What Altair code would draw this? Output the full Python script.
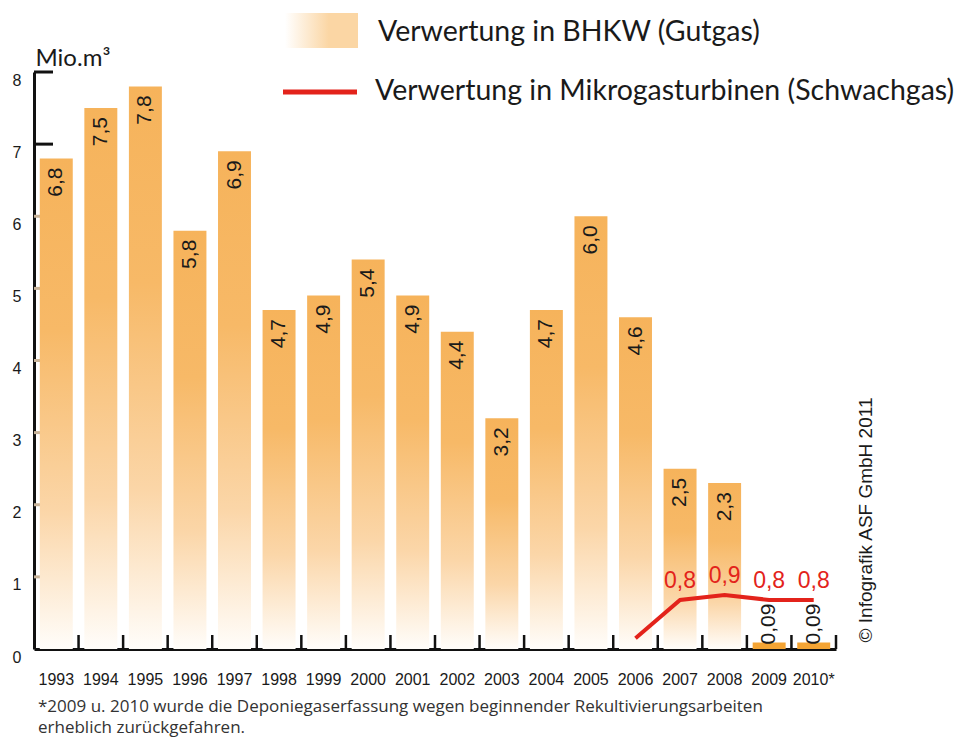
import altair as alt
import pandas as pd

# ---------------- data ----------------
years = ["1993", "1994", "1995", "1996", "1997", "1998", "1999", "2000", "2001",
         "2002", "2003", "2004", "2005", "2006", "2007", "2008", "2009", "2010*"]
bhkw = [6.8, 7.5, 7.8, 5.8, 6.9, 4.7, 4.9, 5.4, 4.9, 4.4, 3.2, 4.7, 6.0, 4.6,
        2.5, 2.3, 0.09, 0.09]
micro_years = ["2006", "2007", "2008", "2009", "2010*"]
micro_line = [0.15, 0.68, 0.75, 0.68, 0.68]
micro_labels = ["", "0,8", "0,9", "0,8", "0,8"]
y_tick_values = [1, 2, 3, 4, 5, 6, 7, 8]
y_tick_colors = ["#c9b49a", "#c9b49a", "#c9b49a", "#c9b49a", "#c9b49a", "#c9b49a",
                 "#111111", "#111111"]

legend_bhkw = "Verwertung in BHKW (Gutgas)"
legend_micro = "Verwertung in Mikrogasturbinen (Schwachgas)"
footnote_1 = "*2009 u. 2010 wurde die Deponiegaserfassung wegen beginnender Rekultivierungsarbeiten"
footnote_2 = "erheblich zurückgefahren."
copyright_text = "© Infografik ASF GmbH 2011"


def fmt(v):
    s = f"{v:.1f}" if v >= 0.1 else f"{v:.2f}"
    return s.replace(".", ",")


bars = pd.DataFrame({"year": years, "value": bhkw, "label": [fmt(v) for v in bhkw]})
line = pd.DataFrame({"year": micro_years, "value": micro_line, "label": micro_labels})
yticks = pd.DataFrame({"value": y_tick_values, "col": y_tick_colors})
one = pd.DataFrame({"a": [0]})

# ---------------- layout ----------------
W, H = 802, 577
P_IN, P_OUT = 0.26, 0.13
step = W / (len(years) - P_IN + 2 * P_OUT)
half_gap = step * P_IN / 2

FONT = "Liberation Sans"
FONT2 = "Lato"
FONT3 = "Open Sans"
TXT = "#1a1a1a"
RED = "#e3231b"

x_scale = alt.Scale(domain=years, paddingInner=P_IN, paddingOuter=P_OUT)
x_axis = alt.Axis(title=None, ticks=False, labelAngle=0, labelFont=FONT, labelFontSize=16,
                  labelColor=TXT, labelPadding=22, domainColor="#111111", domainWidth=3,
                  grid=False)
y_scale = alt.Scale(domain=[0, 8], nice=False)
y_axis = alt.Axis(title="Mio.m³", values=list(range(9)), ticks=False, grid=False,
                  labelFont=FONT, labelFontSize=16, labelColor=TXT, labelPadding=13,
                  labelOffset=8, domainColor="#111111", domainWidth=3,
                  titleAngle=0, titleX=1, titleY=-7, titleAlign="left",
                  titleBaseline="alphabetic", titleFont=FONT2, titleFontSize=24,
                  titleFontWeight="normal", titleColor=TXT)

X = alt.X("year:N", sort=years, scale=x_scale, axis=x_axis)
Y = alt.Y("value:Q", scale=y_scale, axis=y_axis)

bar_grad = alt.Gradient(
    gradient="linear",
    stops=[alt.GradientStop(color="#f6b35b", offset=0),
           alt.GradientStop(color="#f7b967", offset=0.35),
           alt.GradientStop(color="#fbd6a8", offset=0.72),
           alt.GradientStop(color="#fffdfa", offset=1)],
    x1=0, x2=0, y1=0, y2=1)

ytick_layer = alt.Chart(yticks).mark_rule(strokeWidth=3).encode(
    y=Y, x=alt.value(0), x2=alt.value(19), color=alt.Color("col:N", scale=None))

bar_layer = alt.Chart(bars).transform_filter("datum.value >= 1").mark_bar(
    color=bar_grad).encode(x=X, y=Y)
small_bar_layer = alt.Chart(bars).transform_filter("datum.value < 1").mark_bar(
    color="#f4a434").encode(x=X, y=Y)

big_labels = alt.Chart(bars).transform_filter("datum.value >= 1").mark_text(
    angle=270, align="right", baseline="middle", dx=-9, font=FONT, fontSize=21,
    color=TXT).encode(x=X, y=Y, text="label:N")

small_labels = alt.Chart(bars).transform_filter("datum.value < 1").mark_text(
    angle=270, align="left", baseline="middle", dx=-2, font=FONT, fontSize=21,
    color=TXT).encode(x=X, y=Y, text="label:N")

line_layer = alt.Chart(line).mark_line(color=RED, strokeWidth=4).encode(x=X, y=Y)

line_labels = alt.Chart(line).mark_text(
    baseline="middle", align="center", dy=-19, font=FONT, fontSize=23, color=RED
).encode(x=X, y=Y, text="label:N")

xtick_layer = alt.Chart(bars).mark_rule(strokeWidth=2.5, color="#111111",
                                        xOffset=half_gap).encode(
    x=alt.X("year:N", sort=years, scale=x_scale, axis=x_axis, bandPosition=1),
    y=alt.value(H), y2=alt.value(H - 14))

# ---------------- legend & annotations ----------------
leg_grad = alt.Gradient(
    gradient="linear",
    stops=[alt.GradientStop(color="#ffffff", offset=0),
           alt.GradientStop(color="#fbd6a4", offset=0.6),
           alt.GradientStop(color="#fbd6a4", offset=1)],
    x1=0, x2=1, y1=0, y2=0)

leg_rect = alt.Chart(one).mark_rect(color=leg_grad).encode(
    x=alt.value(251), x2=alt.value(324), y=alt.value(-59), y2=alt.value(-24))
leg_text1 = alt.Chart(one).mark_text(
    text=legend_bhkw, align="left", baseline="middle", font=FONT2, fontSize=28.5,
    color=TXT).encode(x=alt.value(344), y=alt.value(-40))
leg_line = alt.Chart(one).mark_rule(color=RED, strokeWidth=5).encode(
    x=alt.value(249), x2=alt.value(323), y=alt.value(20))
leg_text2 = alt.Chart(one).mark_text(
    text=legend_micro, align="left", baseline="middle", font=FONT2, fontSize=28.5,
    color=TXT).encode(x=alt.value(341), y=alt.value(19))

foot1 = alt.Chart(one).mark_text(
    text=footnote_1, align="left", baseline="middle", font=FONT3, fontSize=17,
    color="#333333").encode(x=alt.value(4), y=alt.value(635))
foot2 = alt.Chart(one).mark_text(
    text=footnote_2, align="left", baseline="middle", font=FONT3, fontSize=17,
    color="#333333").encode(x=alt.value(4), y=alt.value(656))

copy = alt.Chart(one).mark_text(
    text=copyright_text, angle=270, align="center", baseline="middle", font=FONT,
    fontSize=19, color=TXT).encode(x=alt.value(832), y=alt.value(448))

chart = alt.layer(
    ytick_layer, bar_layer, small_bar_layer, big_labels, small_labels, line_layer,
    line_labels, xtick_layer, leg_rect, leg_text1, leg_line, leg_text2, foot1, foot2,
    copy
).properties(
    width=W, height=H,
    autosize=alt.AutoSizeParams(type="none"),
    padding={"left": 26, "top": 64, "right": 128, "bottom": 89},
).configure_view(stroke=None)

chart.save("out.html", embed_options={"renderer": "svg", "actions": False})
